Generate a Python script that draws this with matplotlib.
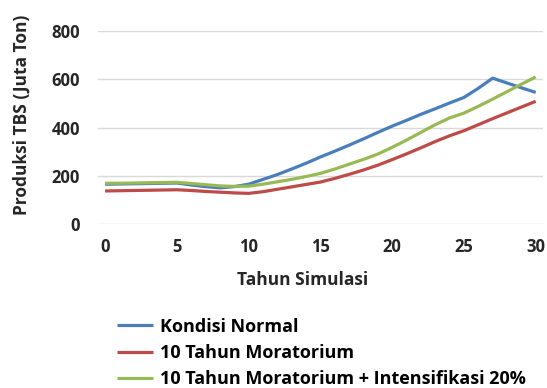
import matplotlib
matplotlib.use("Agg")
import matplotlib.pyplot as plt
import numpy as np

tahun = np.arange(0, 31)

normal = [165, 166, 167, 168, 169, 170, 162, 155, 150, 155, 165,
          185, 205, 228, 252, 278, 302, 327, 353, 380, 406,
          430, 455, 478, 502, 525, 563, 605, 585, 565, 546]
moratorium = [137, 138, 139, 140, 141, 142, 139, 135, 132, 129, 127,
              134, 144, 154, 164, 174, 189, 206, 224, 244, 267,
              291, 316, 342, 366, 387, 412, 437, 461, 485, 509]
intensifikasi = [169, 169, 170, 171, 172, 173, 168, 163, 158, 156, 157,
                 165, 175, 185, 197, 210, 228, 248, 268, 290, 318,
                 348, 380, 412, 440, 460, 488, 518, 549, 580, 610]

labels = ["Kondisi Normal", "10 Tahun Moratorium",
          "10 Tahun Moratorium + Intensifikasi 20%"]
colors = ["#4A7EBB", "#BE4B48", "#98B954"]

plt.rcParams["font.family"] = ["Open Sans", "DejaVu Sans"]
plt.rcParams["font.weight"] = "bold"

fig = plt.figure(figsize=(5.47, 3.88), dpi=100)
ax = fig.add_axes([0.179, 0.4227, 0.8135, 0.497])

for ys, lab, c in zip([normal, moratorium, intensifikasi], labels, colors):
    ax.plot(tahun, ys, color=c, lw=2.3, label=lab, solid_capstyle="butt")

ax.set_xlim(-0.5, 30.5)
ax.set_ylim(0, 800)
ax.set_yticks(range(0, 801, 200))
ax.set_xticks(range(0, 31, 5))
ax.grid(axis="y", color="#D9D9D9", lw=1)
ax.set_axisbelow(True)
for s in ax.spines.values():
    s.set_visible(False)
ax.tick_params(length=0, labelsize=12, colors="#262626")
ax.tick_params(axis="x", pad=10)
ax.tick_params(axis="y", pad=13)

ax.set_xlabel("Tahun Simulasi", fontsize=12.5, fontweight="bold",
              color="#262626")
ax.set_ylabel("Produksi TBS (Juta Ton)", fontsize=12.5, fontweight="bold",
              color="#262626")
ax.xaxis.set_label_coords(0.461, -0.245)
ax.yaxis.set_label_coords(-0.15, 0.565)

fig.legend(loc="upper left", bbox_to_anchor=(0.214, 0.181), frameon=False,
           fontsize=13, handlelength=2.0, handletextpad=0.38,
           labelspacing=0.45, borderpad=0, borderaxespad=0)

fig.savefig("out.png", dpi=100)
